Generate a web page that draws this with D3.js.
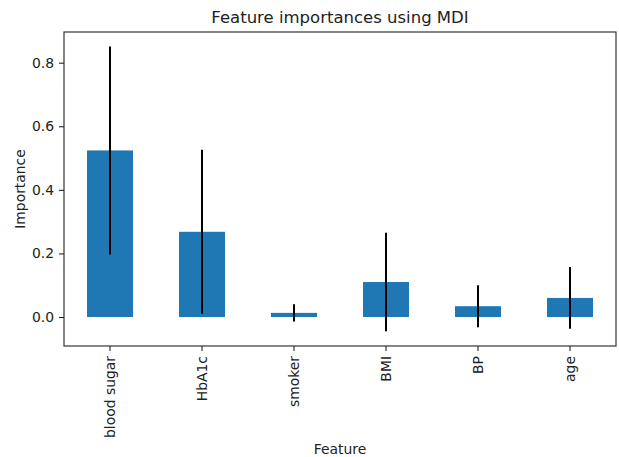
<!DOCTYPE html>
<html>
<head>
<meta charset="utf-8">
<script src="https://cdn.jsdelivr.net/npm/d3@7"></script>
<style>
	body { margin:0; background:#fff; }
	text { font-family:'DejaVu Sans', sans-serif; fill:#222; }
	.axis path, .axis line { stroke:#222; stroke-width:1.1; }
</style>
</head>
<body>
<script>
var features = ['blood sugar','HbA1c','smoker','BMI','BP','age'];
var importances = [0.524, 0.268, 0.013, 0.110, 0.034, 0.060];
var stdDevs = [0.327, 0.258, 0.027, 0.155, 0.066, 0.097];
var yTicks = [0.0, 0.2, 0.4, 0.6, 0.8];

var width = 619, height = 457;
var margin = {left:64, right:3, top:32, bottom:111};
var w = width - margin.left - margin.right;
var h = height - margin.top - margin.bottom;

var data = features.map((f,i)=>({name:f, value:importances[i], err:stdDevs[i]}));

var x = d3.scaleBand()
	.domain(features)
	.range([0,w])
	.paddingInner(0.5)
	.paddingOuter(0.25);

var y = d3.scaleLinear()
	.domain([-0.0912, 0.8965])
	.range([h,0]);

var svg = d3.select('body').append('svg').attr('width',width).attr('height',height);
var chartGroup = svg.append('g').attr('transform',`translate(${margin.left},${margin.top})`);

chartGroup.selectAll('rect.bar')
	.data(data)
	.enter().append('rect')
		.attr('class','bar')
		.attr('x',d=>x(d.name))
		.attr('width',x.bandwidth())
		.attr('y',d=>y(Math.max(0,d.value)))
		.attr('height',d=>Math.abs(y(d.value)-y(0)))
		.attr('fill','#1f77b4');

chartGroup.selectAll('line.err')
	.data(data)
	.enter().append('line')
		.attr('class','err')
		.attr('x1',d=>x(d.name)+x.bandwidth()/2)
		.attr('x2',d=>x(d.name)+x.bandwidth()/2)
		.attr('y1',d=>y(d.value+d.err))
		.attr('y2',d=>y(d.value-d.err))
		.attr('stroke','#000')
		.attr('stroke-width',2);

// frame
chartGroup.append('rect')
	.attr('width',w).attr('height',h)
	.attr('fill','none').attr('stroke','#222').attr('stroke-width',1.1);

chartGroup.append('g').attr('class','x axis')
	.attr('transform',`translate(0,${h})`)
	.call(d3.axisBottom(x).tickSizeOuter(0).tickSize(5).tickPadding(5))
	.call(g=>g.select('.domain').remove())
	.selectAll('text')
		.attr('transform','rotate(-90)')
		.attr('x',-10).attr('y',0).attr('dy','0.35em')
		.style('text-anchor','end')
		.style('font-size','13.9px');

chartGroup.append('g').attr('class','y axis')
	.call(d3.axisLeft(y).tickValues(yTicks).tickFormat(d3.format('.1f')).tickSizeOuter(0).tickSize(5).tickPadding(5))
	.call(g=>g.select('.domain').remove())
	.selectAll('text').style('font-size','13.9px');

svg.selectAll('.tick text').attr('fill','#222');

svg.append('text')
	.attr('x',margin.left+w/2).attr('y',23)
	.attr('text-anchor','middle')
	.style('font-size','16.5px')
	.text('Feature importances using MDI');

svg.append('text')
	.attr('x',margin.left+w/2).attr('y',454)
	.attr('text-anchor','middle')
	.style('font-size','13.9px')
	.text('Feature');

svg.append('text')
	.attr('transform',`translate(25,${margin.top+h/2}) rotate(-90)`)
	.attr('text-anchor','middle')
	.style('font-size','13.9px')
	.text('Importance');
</script>
</body>
</html>
